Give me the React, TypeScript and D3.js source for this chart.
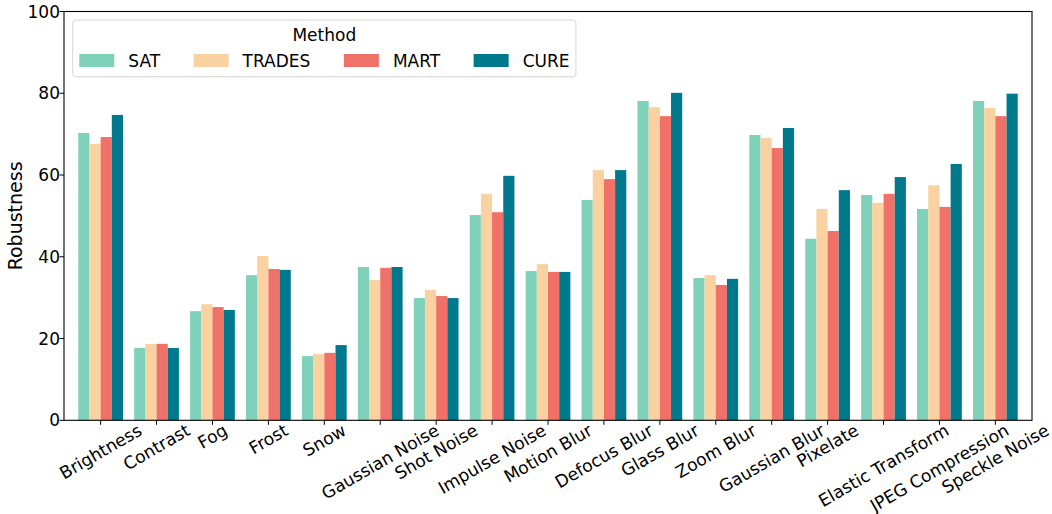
import React, { useEffect, useRef } from 'react'
import * as d3 from 'd3'

const categories = [
  'Brightness', 'Contrast', 'Fog', 'Frost', 'Snow', 'Gaussian Noise', 'Shot Noise',
  'Impulse Noise', 'Motion Blur', 'Defocus Blur', 'Glass Blur', 'Zoom Blur',
  'Gaussian Blur', 'Pixelate', 'Elastic Transform', 'JPEG Compression', 'Speckle Noise',
]
const methods = ['SAT', 'TRADES', 'MART', 'CURE']
const colors = ['#7fd1b9', '#fad1a0', '#f07167', '#00798c']

const sat = [70.3, 17.7, 26.7, 35.5, 15.7, 37.5, 29.9, 50.2, 36.5, 53.9, 78.1, 34.8, 69.8, 44.4, 55.1, 51.7, 78.1]
const trades = [67.6, 18.7, 28.4, 40.2, 16.2, 34.3, 31.9, 55.4, 38.2, 61.2, 76.6, 35.5, 69.1, 51.7, 53.2, 57.5, 76.4]
const mart = [69.3, 18.7, 27.7, 37.0, 16.5, 37.3, 30.4, 50.9, 36.3, 59.0, 74.4, 33.1, 66.6, 46.3, 55.4, 52.2, 74.4]
const cure = [74.7, 17.7, 27.0, 36.8, 18.4, 37.5, 29.9, 59.8, 36.3, 61.2, 80.1, 34.6, 71.5, 56.3, 59.5, 62.7, 79.9]
const series = [sat, trades, mart, cure]

const yTicks = [0, 20, 40, 60, 80, 100]

const W = 1052
const H = 514
const FONT = '"DejaVu Sans", sans-serif'

const App = () => {
  const svgRef = useRef<SVGSVGElement>(null)

  useEffect(() => {
    document.body.style.margin = '0'
    const svg = d3.select(svgRef.current)
    svg.selectAll('*').remove()

    const left = 64, right = 1032, top = 11.5, bottom = 420.3
    const n = categories.length
    const pad = 0.655
    const x = d3.scaleLinear([-pad, n - 1 + pad], [left, right])
    const y = d3.scaleLinear([0, 100], [bottom, top])
    const bw = 0.2

    // bars
    series.forEach((vals, s) => {
      svg.append('g')
        .selectAll('rect')
        .data(vals)
        .join('rect')
        .attr('x', (_: any, i: number) => x(i - 0.4 + s * bw))
        .attr('width', x(bw) - x(0))
        .attr('y', (d: number) => y(d))
        .attr('height', (d: number) => y(0) - y(d))
        .attr('fill', colors[s])
    })

    // frame
    svg.append('rect')
      .attr('x', left).attr('y', top)
      .attr('width', right - left).attr('height', bottom - top)
      .attr('fill', 'none').attr('stroke', '#000').attr('stroke-width', 1.1)

    // y ticks
    const yg = svg.append('g')
    yTicks.forEach(t => {
      yg.append('line')
        .attr('x1', left - 4.5).attr('x2', left)
        .attr('y1', y(t)).attr('y2', y(t))
        .attr('stroke', '#000').attr('stroke-width', 1)
      yg.append('text')
        .attr('x', left - 4).attr('y', y(t))
        .attr('dy', '0.36em')
        .attr('text-anchor', 'end')
        .attr('font-family', FONT).attr('font-size', 17)
        .text(t)
    })

    svg.append('text')
      .attr('transform', `translate(22,${(top + bottom) / 2}) rotate(-90)`)
      .attr('text-anchor', 'middle')
      .attr('font-family', FONT).attr('font-size', 19)
      .text('Robustness')

    // x ticks and labels
    const xg = svg.append('g')
    const labelTop = 420.5
    const fs = 17
    const xfs = 17.2
    const hBox = 1.1 * xfs
    const sin = Math.sin(Math.PI / 6), cos = Math.cos(Math.PI / 6)
    categories.forEach((c, i) => {
      xg.append('line')
        .attr('x1', x(i)).attr('x2', x(i))
        .attr('y1', bottom).attr('y2', bottom + 4.5)
        .attr('stroke', '#000').attr('stroke-width', 1)
      const t = xg.append('text')
        .attr('text-anchor', 'middle')
        .attr('dy', '0.35em')
        .attr('font-family', FONT).attr('font-size', xfs)
        .text(c)
      const w = (t.node() as SVGTextElement).getComputedTextLength()
      const bh = w * sin + hBox * cos
      t.attr('transform', `translate(${x(i)},${labelTop + bh / 2}) rotate(-30)`)
    })

    // legend
    const lg = svg.append('g')
    const lx = 72.7, ly = 20
    const handleW = 35, handleH = 13, textPad = 14, colSpace = 33.5, inPad = 6.6
    let cx = lx + inPad
    methods.forEach((m, k) => {
      lg.append('rect')
        .attr('x', cx).attr('y', 54)
        .attr('width', handleW).attr('height', handleH)
        .attr('fill', colors[k])
      const t = lg.append('text')
        .attr('x', cx + handleW + textPad).attr('y', 66.7)
        .attr('font-family', FONT).attr('font-size', fs)
        .text(m)
      const w = (t.node() as SVGTextElement).getComputedTextLength()
      cx += handleW + textPad + w + (k < methods.length - 1 ? colSpace : 0)
    })
    const lw = cx + 6.4 - lx
    lg.insert('rect', ':first-child')
      .attr('x', lx).attr('y', ly)
      .attr('width', lw).attr('height', 56.7)
      .attr('rx', 3)
      .attr('fill', '#fff').attr('fill-opacity', 0.8)
      .attr('stroke', '#d6d6d6').attr('stroke-width', 1)
    lg.append('text')
      .attr('x', lx + lw / 2).attr('y', 41)
      .attr('text-anchor', 'middle')
      .attr('font-family', FONT).attr('font-size', fs)
      .text('Method')
  }, [])

  return <svg ref={svgRef} width={W} height={H} style={{ display: 'block', background: '#fff' }} />
}

export default App
